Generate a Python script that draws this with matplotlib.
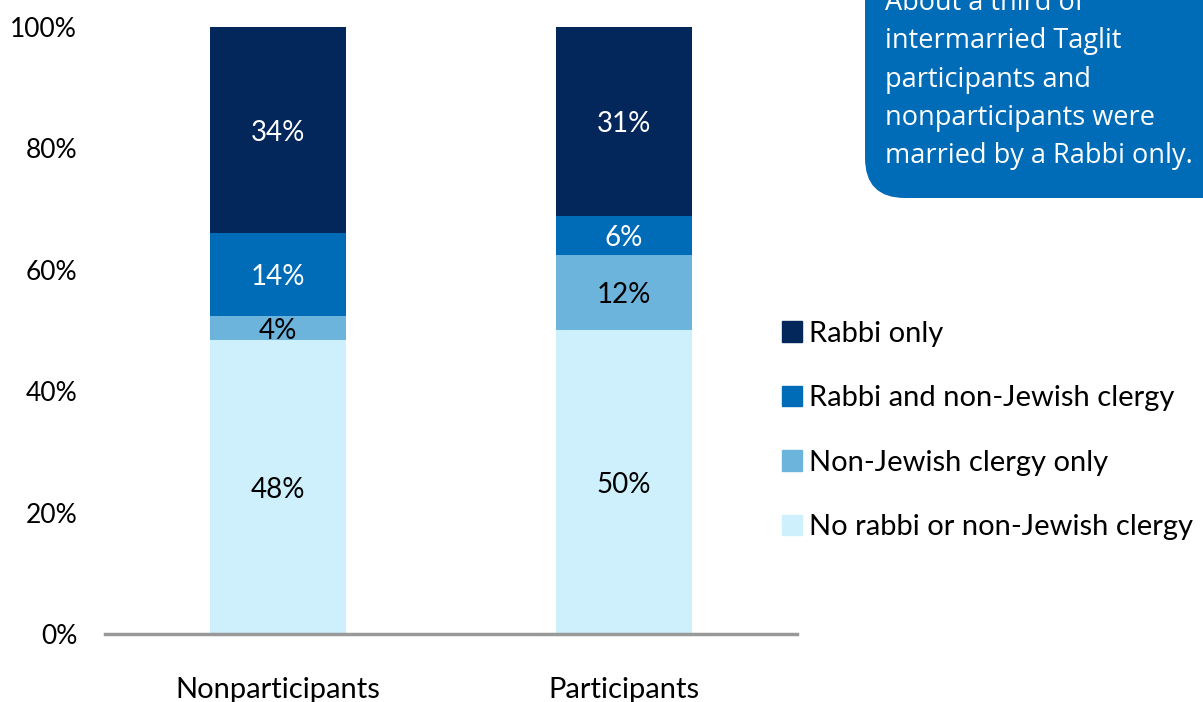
import matplotlib.pyplot as plt
from matplotlib.patches import FancyBboxPatch, Rectangle

plt.rcParams['font.family'] = ['Lato', 'DejaVu Sans']

# Datos del gráfico
grupos = ["Nonparticipants", "Participants"]
categorias = ["No rabbi or non-Jewish clergy", "Non-Jewish clergy only",
              "Rabbi and non-Jewish clergy", "Rabbi only"]
valores = {
    "No rabbi or non-Jewish clergy": [48.4, 50.0],
    "Non-Jewish clergy only": [4.0, 12.4],
    "Rabbi and non-Jewish clergy": [13.6, 6.4],
    "Rabbi only": [34.0, 31.2],
}
colores = ["#cdf0fc", "#6cb4dc", "#006cb7", "#03265b"]
color_texto = ["black", "black", "white", "white"]
nota = ["About a third of", "intermarried Taglit", "participants and",
        "nonparticipants were", "married by a Rabbi only."]

fig = plt.figure(figsize=(12.03, 7.02), dpi=100)
ax = fig.add_axes([0.0873, 0.0969, 0.5752, 0.8647])

x = range(len(grupos))
base = [0, 0]
for cat, col, tc in zip(categorias, colores, color_texto):
    vals = valores[cat]
    ax.bar(x, vals, bottom=base, width=0.395, color=col, label=cat)
    for i, v in enumerate(vals):
        ax.text(i, base[i] + v / 2, f"{v:.0f}%", ha="center",
                va="center_baseline", fontsize=20, color=tc)
    base = [b + v for b, v in zip(base, vals)]

ax.set_xlim(-0.5, 1.5)
ax.set_ylim(0, 100)
ax.set_yticks(range(0, 101, 20))
ax.set_yticklabels([f"{t}%" for t in range(0, 101, 20)], fontsize=19)
ax.set_xticks(list(x))
ax.set_xticklabels(grupos, fontsize=21)
ax.tick_params(length=0, axis="y", pad=20)
ax.tick_params(length=0, axis="x", pad=31)
for s in ["top", "right", "left"]:
    ax.spines[s].set_visible(False)
ax.spines["bottom"].set_color("#999999")
ax.spines["bottom"].set_linewidth(2.5)

# Leyenda
handles = [Rectangle((0, 0), 1, 1, color=c) for c in colores[::-1]]
fig.legend(handles, categorias[::-1], loc="upper left",
           bbox_to_anchor=(0.640, 0.560), frameon=False, fontsize=21,
           handlelength=0.7, handleheight=0.7, handletextpad=0.25,
           labelspacing=1.32, borderaxespad=0)

# Cuadro de nota (coordenadas en píxeles)
caja = FancyBboxPatch((865, 702 - 198), 400, 300,
                      boxstyle="round,pad=0,rounding_size=40",
                      transform=None, facecolor="#006cb7", edgecolor="none")
fig.patches.append(caja)
for k, linea in enumerate(nota):
    fig.text(885 / 1203, 1 - (10 + 38.3 * k) / 702, linea, color="white",
             fontsize=19.5, family=["Open Sans", "DejaVu Sans"], va="baseline")

fig.savefig("out.png", dpi=100)
